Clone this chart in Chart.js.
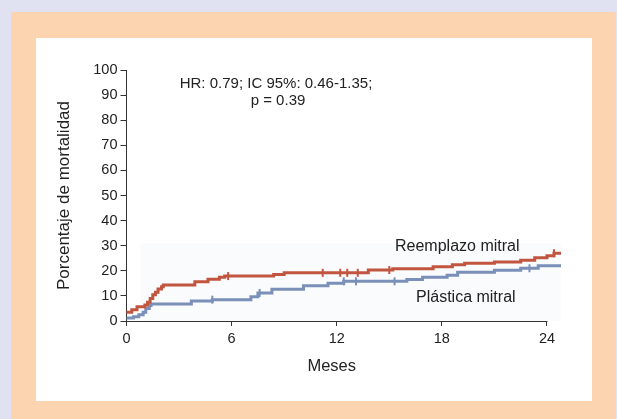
<!DOCTYPE html>
<html>
<head>
<meta charset="utf-8">
<script src="https://cdn.jsdelivr.net/npm/chart.js@4.4.1/dist/chart.umd.min.js"></script>
<style>
  html, body { margin:0; padding:0; }
  body { width:617px; height:419px; background:#e0e2f2; position:relative; overflow:hidden; }
  #frame { position:absolute; left:11px; top:12px; width:605px; height:407px; background:#fdd4b0; }
  #panel { position:absolute; left:36px; top:38px; width:556px; height:363px; background:#ffffff; }
  #c { position:absolute; left:0; top:0; }
</style>
</head>
<body>
<div id="frame"></div>
<div id="panel"></div>
<canvas id="c" width="617" height="419"></canvas>
<script>
// ---- data ----
const xTickValues = [0, 6, 12, 18, 24];
const yTickValues = [0, 10, 20, 30, 40, 50, 60, 70, 80, 90, 100];

const reemplazoT = [0, 0.3, 0.6, 1.05, 1.2, 1.35, 1.5, 1.65, 1.8, 2.0, 2.1, 3.9, 4.65, 5.3, 5.6, 8.4, 9.0, 13.8, 15.2, 17.5, 18.6, 19.3, 21.0, 22.5, 23.3, 24.0, 24.4, 24.8];
const reemplazoV = [3.5, 4.5, 5.7, 6.4, 7.5, 9, 10.5, 11.5, 12.7, 13.6, 14.3, 15.6, 16.6, 17.4, 17.9, 18.5, 19.2, 20.3, 20.8, 21.6, 22.4, 23.0, 23.5, 24.2, 25.2, 26.0, 27.0, 27.0];
const reemplazoCensor = [5.8, 11.2, 12.2, 12.6, 13.2, 15.0, 24.4];

const plasticaT = [0, 0.4, 0.7, 0.95, 1.1, 1.3, 1.4, 3.7, 4.9, 7.1, 7.5, 8.3, 10.1, 11.5, 12.4, 16.0, 16.9, 18.3, 18.9, 21.0, 22.5, 23.5, 24.8];
const plasticaV = [1.2, 1.7, 2.5, 3.5, 5, 6.2, 6.8, 8.0, 8.5, 9.7, 11.2, 12.6, 14.0, 15.0, 15.8, 16.5, 17.4, 18.2, 19.4, 20.2, 21.0, 22.0, 22.0];
const plasticaCensor = [4.9, 7.6, 12.4, 13.1, 15.3, 23.0];

const xMax = 24.8;
const band = { x0: 0.8, x1: 24.8, yTop: 31 };

// ---- helpers ----
function toPoints(ts, vs) { return ts.map((t, i) => ({ x: t, y: vs[i] })); }
function stepValueAt(ts, vs, t) {
  let v = vs[0];
  for (let i = 0; i < ts.length; i++) { if (ts[i] <= t) v = vs[i]; }
  return v;
}
function censorPoints(cs, ts, vs) { return cs.map(t => ({ x: t, y: stepValueAt(ts, vs, t) })); }

const RED = '#c2553f';
const BLUE = '#7a90b8';
const AX = '#333333';
const FONT = "'Liberation Sans', Arial, Helvetica, sans-serif";

const decor = {
  id: 'decor',
  beforeDatasetsDraw(chart) {
    const { ctx, scales: { x, y }, chartArea } = chart;
    ctx.save();
    // very faint background band (scan tint in the reference)
    ctx.fillStyle = 'rgba(226,233,246,0.18)';
    const bx0 = x.getPixelForValue(band.x0), bx1 = x.getPixelForValue(band.x1);
    const by0 = y.getPixelForValue(band.yTop), by1 = y.getPixelForValue(0);
    ctx.fillRect(bx0, by0, bx1 - bx0, by1 - by0);
    // x axis line from 0 to 24
    ctx.strokeStyle = AX;
    ctx.lineWidth = 1;
    ctx.beginPath();
    const yy = Math.round(chartArea.bottom) + 0.5;
    ctx.moveTo(x.getPixelForValue(0), yy);
    ctx.lineTo(x.getPixelForValue(24) + 0.5, yy);
    ctx.stroke();
    ctx.restore();
  },
  afterDraw(chart) {
    const { ctx, scales: { x } } = chart;
    ctx.save();
    ctx.fillStyle = '#222';
    ctx.textBaseline = 'middle';
    ctx.textAlign = 'center';
    ctx.font = "15px " + FONT;
    ctx.fillText('HR: 0.79; IC 95%: 0.46-1.35;', 276, 84);
    ctx.fillText('p = 0.39', 278, 101);
    ctx.font = "16.5px " + FONT;
    ctx.fillText('Meses', (x.getPixelForValue(0) + x.getPixelForValue(24)) / 2 - 5, 366);
    ctx.textAlign = 'left';
    ctx.font = "16px " + FONT;
    ctx.fillText('Reemplazo mitral', 395, 247);
    ctx.fillText('Plástica mitral', 416, 298);
    ctx.restore();
  }
};

new Chart(document.getElementById('c'), {
  type: 'line',
  data: {
    datasets: [
      { label: 'Reemplazo mitral', data: toPoints(reemplazoT, reemplazoV), stepped: 'before',
        borderColor: RED, borderWidth: 3, pointRadius: 0, fill: false, clip: false },
      { label: 'Plástica mitral', data: toPoints(plasticaT, plasticaV), stepped: 'before',
        borderColor: BLUE, borderWidth: 3, pointRadius: 0, fill: false, clip: false },
      { label: 'c1', data: censorPoints(reemplazoCensor, reemplazoT, reemplazoV), showLine: false,
        pointStyle: 'line', rotation: 90, pointRadius: 4, pointBorderWidth: 2, borderColor: RED, clip: false },
      { label: 'c2', data: censorPoints(plasticaCensor, plasticaT, plasticaV), showLine: false,
        pointStyle: 'line', rotation: 90, pointRadius: 4, pointBorderWidth: 2, borderColor: BLUE, clip: false }
    ]
  },
  options: {
    responsive: false,
    animation: false,
    devicePixelRatio: 1,
    layout: { padding: { left: 54, right: 56, top: 70, bottom: 68 } },
    plugins: { legend: { display: false }, tooltip: { enabled: false } },
    scales: {
      x: {
        type: 'linear', min: 0, max: xMax,
        afterBuildTicks: s => { s.ticks = xTickValues.map(v => ({ value: v })); },
        afterFit: s => { s.height = 30; },
        border: { display: false },
        grid: { display: true, drawOnChartArea: false, drawTicks: true, tickLength: 5, color: AX },
        ticks: { color: '#222', padding: 4, font: { family: FONT, size: 14.5 }, maxRotation: 0 }
      },
      y: {
        min: 0, max: 100,
        afterBuildTicks: s => { s.ticks = yTickValues.map(v => ({ value: v })); },
        afterFit: s => { s.width = 72.5; },
        border: { display: true, color: AX, width: 1 },
        grid: { display: true, drawOnChartArea: false, drawTicks: true, tickLength: 6, color: AX },
        ticks: { color: '#222', padding: 3, font: { family: FONT, size: 14.5 } },
        title: { display: true, text: 'Porcentaje de mortalidad', color: '#222',
                 font: { family: FONT, size: 17 }, padding: { top: 0, bottom: 0 } }
      }
    }
  },
  plugins: [decor]
});
</script>
</body>
</html>
